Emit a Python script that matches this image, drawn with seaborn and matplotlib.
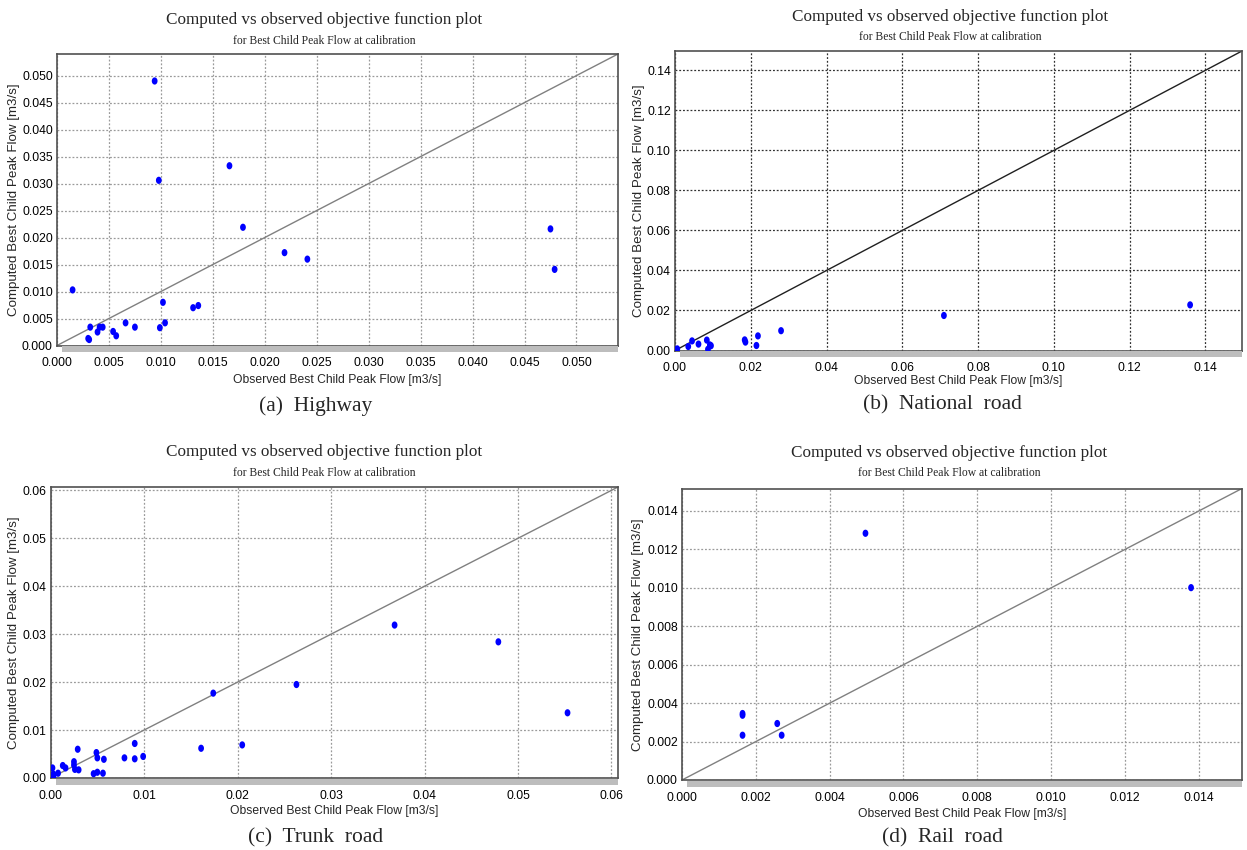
import numpy as np
import pandas as pd
import matplotlib
matplotlib.use('Agg')
import matplotlib.pyplot as plt
import seaborn as sns
from matplotlib.path import Path
from matplotlib.patches import Rectangle
from matplotlib.ticker import MultipleLocator, AutoMinorLocator, FormatStrFormatter

# Highway
hw_obs = [0.0094, 0.0098, 0.0166, 0.0179, 0.0219, 0.0241, 0.0475, 0.0479, 0.0015,
          0.0102, 0.0131, 0.0136, 0.0030, 0.0031, 0.0032, 0.0039, 0.0041, 0.0044,
          0.0054, 0.0057, 0.0066, 0.0075, 0.0099, 0.0104]
hw_comp = [0.0490, 0.0306, 0.0333, 0.0219, 0.0172, 0.0160, 0.0216, 0.0141, 0.0103,
           0.0080, 0.0070, 0.0074, 0.0013, 0.0011, 0.0034, 0.0025, 0.0034, 0.0034,
           0.0026, 0.0018, 0.0042, 0.0034, 0.0033, 0.0042]

# National road
nr_obs = [0.0006, 0.0035, 0.0045, 0.0062, 0.0084, 0.0087, 0.0092, 0.0095, 0.0184,
          0.0186, 0.0215, 0.0219, 0.0280, 0.0710, 0.1360]
nr_comp = [0.0008, 0.0020, 0.0048, 0.0032, 0.0052, 0.0006, 0.0028, 0.0024, 0.0053,
           0.0042, 0.0025, 0.0073, 0.0099, 0.0175, 0.0228]

# Trunk road
tr_obs = [0.0002, 0.0003, 0.0003, 0.0008, 0.0013, 0.0016, 0.0025, 0.0025, 0.0026,
          0.0029, 0.0030, 0.0046, 0.0049, 0.0050, 0.0050, 0.0056, 0.0057, 0.0079,
          0.0090, 0.0090, 0.0099, 0.0161, 0.0174, 0.0205, 0.0263, 0.0368, 0.0479, 0.0553]
tr_comp = [0.0021, 0.0008, 0.0002, 0.0010, 0.0026, 0.0021, 0.0034, 0.0027, 0.0018,
           0.0060, 0.0017, 0.0009, 0.0053, 0.0042, 0.0012, 0.0010, 0.0039, 0.0042,
           0.0072, 0.0040, 0.0045, 0.0062, 0.0177, 0.0069, 0.0195, 0.0319, 0.0284, 0.0136]

# Rail road
rr_obs = [0.00164, 0.00164, 0.00164, 0.00258, 0.00270, 0.00497, 0.01379]
rr_comp = [0.00346, 0.00337, 0.00233, 0.00294, 0.00233, 0.01284, 0.01001]

captions = ['(a)  Highway', '(b)  National  road', '(c)  Trunk  road', '(d)  Rail  road']
title = 'Computed vs observed objective function plot'
subtitle = 'for Best Child Peak Flow at calibration'
xlab = 'Observed Best Child Peak Flow [m3/s]'
ylab = 'Computed Best Child Peak Flow [m3/s]'

W, H = 1247, 850
sns.set_style('white')
plt.rcParams['font.family'] = ['Liberation Sans', 'DejaVu Sans']
serif = ['Liberation Serif', 'DejaVu Serif']

fig = plt.figure(figsize=(W / 100, H / 100), dpi=100)


def fx(x):
    return x / W


def fy(y):
    return 1 - y / H


# slightly tall ellipse marker
t = np.linspace(0, 2 * np.pi, 40)
ellipse = Path(np.column_stack([0.8 * np.cos(t), np.sin(t)]), closed=True)

panels = [
    # obs, comp, box(l, t, r, b) px, lim, major, minor, fmt, title x, title y, cap x, cap y, xlab y, ylab x, dark grid
    (hw_obs, hw_comp, (57, 54, 618, 345.5), 0.054, 0.005, 5, '%.3f', 324, 20, 316, 406, 380, 14, False),
    (nr_obs, nr_comp, (675, 51, 1242, 350.5), 0.1497, 0.02, 4, '%.2f', 950, 17, 942, 405, 381, 639, True),
    (tr_obs, tr_comp, (50.6, 487, 618, 778), 0.0607, 0.01, 2, '%.2f', 324, 452, 316, 838, 811, 14, False),
    (rr_obs, rr_comp, (682, 488.5, 1242, 780), 0.01517, 0.002, 4, '%.3f', 949, 453, 942, 838, 814, 638, False),
]

for i, (obs, comp, box, lim, major, nminor, fmt, tx, ty, cx, cy, xly, ylx, dark) in enumerate(panels):
    l, t_, r, b = box
    ax = fig.add_axes([fx(l), fy(b), fx(r - l), (b - t_) / H])
    df = pd.DataFrame({'observed': obs, 'computed': comp})

    grid_color = '#303030' if dark else '#9a9a9a'
    ax.grid(True, which='major', color=grid_color, linestyle=(0, (1.5, 1.5)), linewidth=0.9)
    ax.set_axisbelow(True)

    ax.axline((0, 0), slope=1, color='#202020' if dark else '#808080', linewidth=1.0, zorder=2)
    sns.scatterplot(data=df, x='observed', y='computed', ax=ax, color='#0000ff',
                    marker=ellipse, s=27, edgecolor='none', linewidth=0, zorder=3)

    ax.set_xlim(0, lim)
    ax.set_ylim(0, lim)
    for axis in (ax.xaxis, ax.yaxis):
        axis.set_major_locator(MultipleLocator(major))
        axis.set_minor_locator(AutoMinorLocator(nminor))
        axis.set_major_formatter(FormatStrFormatter(fmt))
    ax.tick_params(which='both', direction='in', colors='#404040', labelcolor='black',
                   labelsize=8.7)
    ax.tick_params(which='major', length=9, width=0.9)
    ax.tick_params(which='minor', length=6, width=0.9)
    ax.tick_params(axis='x', pad=8.5)
    ax.tick_params(axis='y', pad=3)
    for s in ax.spines.values():
        s.set_visible(True)
        s.set_color('#505050')
        s.set_linewidth(1.2)

    ax.set_xlabel(xlab, fontsize=8.7)
    ax.set_ylabel(ylab, fontsize=9.6)
    ax.xaxis.set_label_coords(fx((l + r) / 2), fy(xly), transform=fig.transFigure)
    ax.xaxis.label.set_va('center')
    ax.yaxis.set_label_coords(fx(ylx), fy((t_ + b) / 2), transform=fig.transFigure)
    ax.yaxis.label.set_va('center')

    # grey shadow band under the x axis
    fig.add_artist(Rectangle((fx(l + 5), fy(b + 6.5)), fx(r - l - 5), 5.5 / H,
                             facecolor='#bdbdbd', edgecolor='none', transform=fig.transFigure))

    fig.text(fx(tx), fy(ty), title, ha='center', va='center', fontsize=12.3, family=serif)
    fig.text(fx(tx), fy(ty + 20.5), subtitle, ha='center', va='center', fontsize=8.4,
             family=serif)
    fig.text(fx(cx), fy(cy), captions[i], ha='center', va='center', fontsize=15.5,
             family=serif)

fig.savefig('out.png', dpi=100)
